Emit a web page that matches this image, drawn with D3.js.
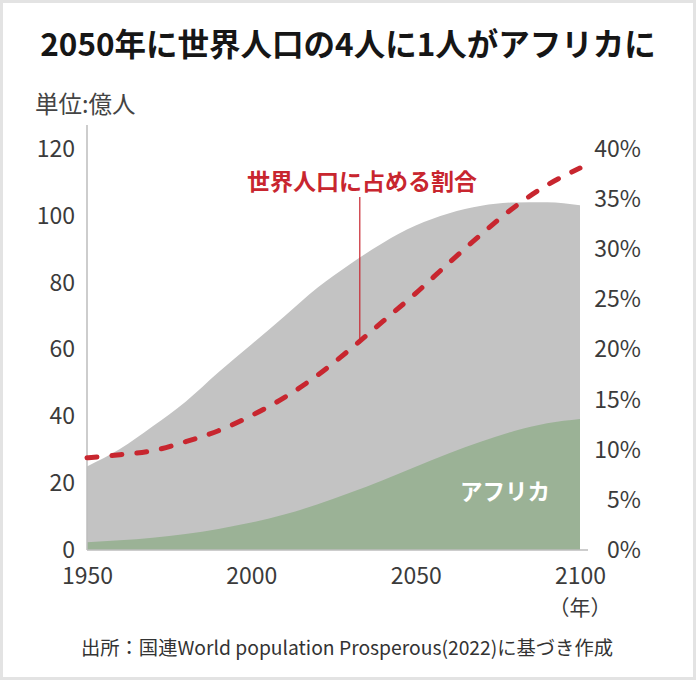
<!DOCTYPE html>
<html>
<head>
<meta charset="utf-8">
<script src="https://cdn.jsdelivr.net/npm/d3@7"></script>
<style>
  html, body { margin: 0; padding: 0; background: #fff; }
  svg text { font-family: "Noto Sans CJK JP", "Noto Sans", sans-serif; }
</style>
</head>
<body>
<div id="area"></div>
<script>
// values (億人 / %)
var years = [1950, 1960, 1970, 1980, 1990, 2000, 2010, 2020, 2030, 2040, 2050, 2060, 2070, 2080, 2090, 2100];
var world = [25.0, 30.2, 37.0, 44.4, 53.2, 61.5, 69.9, 78.4, 85.5, 91.9, 97.1, 100.7, 103.0, 104.0, 104.1, 103.2];
var africa = [2.3, 2.9, 3.7, 4.8, 6.3, 8.2, 10.6, 13.6, 17.1, 20.9, 24.9, 28.9, 32.5, 35.6, 37.9, 39.2];
var share = [9.2, 9.5, 9.9, 10.8, 11.9, 13.4, 15.2, 17.4, 20.0, 22.8, 25.6, 28.6, 31.5, 34.2, 36.4, 38.1];

var leftTicks = [0, 20, 40, 60, 80, 100, 120];
var rightTicks = [0, 5, 10, 15, 20, 25, 30, 35, 40];
var yearTicks = [1950, 2000, 2050, 2100];

var width = 696, height = 680;
var grey_fill = '#c3c3c3',
    green_fill = '#9bb296',
    red_line = '#c8262f',
    tick_color = '#3b3b3b';

var svg = d3.select('#area').append('svg')
    .attr('width', width)
    .attr('height', height);

// outer frame
svg.append('rect')
    .attr('x', 1.5).attr('y', 1.5)
    .attr('width', width - 3).attr('height', height - 3)
    .attr('fill', '#fff')
    .attr('stroke', '#e3e3e3')
    .attr('stroke-width', 3);

var x = d3.scaleLinear().domain([1950, 2100]).range([87, 580]);
var y = d3.scaleLinear().domain([0, 120]).range([550, 149]);
var yR = d3.scaleLinear().domain([0, 40]).range([550, 149]);

var rows = years.map(function(yr, i) {
  return {year: yr, world: world[i], africa: africa[i], share: share[i]};
});

// title
svg.append('text')
    .attr('x', 348).attr('y', 56)
    .attr('text-anchor', 'middle')
    .attr('font-size', 31.5)
    .attr('font-weight', 'bold')
    .attr('fill', '#161616')
    .text('2050年に世界人口の4人に1人がアフリカに');

svg.append('text')
    .attr('x', 35).attr('y', 113)
    .attr('font-size', 23.5)
    .attr('fill', '#444')
    .text('単位:億人');

// world area
var worldArea = d3.area()
    .x(function(d) { return x(d.year); })
    .y0(y(0))
    .y1(function(d) { return y(d.world); })
    .curve(d3.curveMonotoneX);

svg.append('path')
    .datum(rows)
    .attr('d', worldArea)
    .attr('fill', grey_fill);

// africa area
var africaArea = d3.area()
    .x(function(d) { return x(d.year); })
    .y0(y(0))
    .y1(function(d) { return y(d.africa); })
    .curve(d3.curveMonotoneX);

svg.append('path')
    .datum(rows)
    .attr('d', africaArea)
    .attr('fill', green_fill);

// left axis
var leftAxis = svg.append('g')
    .attr('transform', 'translate(' + x(1950) + ',0)')
    .call(d3.axisLeft(y).tickValues(leftTicks).tickSize(0).tickPadding(12));
leftAxis.select('.domain').remove();
leftAxis.selectAll('text')
    .attr('font-size', 23)
    .attr('fill', tick_color)
    .style('font-family', '"Noto Sans CJK JP", sans-serif');

svg.append('line')
    .attr('x1', x(1950)).attr('x2', x(1950))
    .attr('y1', 125).attr('y2', y(0))
    .attr('stroke', '#bdbdbd')
    .attr('stroke-width', 1.5);

// right axis (percent)
var rightAxis = svg.append('g')
    .attr('transform', 'translate(641,0)')
    .call(d3.axisLeft(yR).tickValues(rightTicks).tickSize(0).tickPadding(0)
      .tickFormat(function(d) { return d + '%'; }));
rightAxis.select('.domain').remove();
rightAxis.selectAll('text')
    .attr('font-size', 23)
    .attr('fill', tick_color)
    .style('font-family', '"Noto Sans CJK JP", sans-serif');

// baseline
svg.append('line')
    .attr('x1', x(1950)).attr('x2', 588)
    .attr('y1', y(0)).attr('y2', y(0))
    .attr('stroke', '#bdbdbd')
    .attr('stroke-width', 1.5);

// x axis
var xAxis = svg.append('g')
    .attr('transform', 'translate(0,' + y(0) + ')')
    .call(d3.axisBottom(x).tickValues(yearTicks).tickSize(0).tickPadding(18)
      .tickFormat(d3.format('d')));
xAxis.select('.domain').remove();
xAxis.selectAll('text')
    .attr('font-size', 23)
    .attr('fill', tick_color)
    .style('font-family', '"Noto Sans CJK JP", sans-serif');

svg.append('text')
    .attr('x', x(2100)).attr('y', 615)
    .attr('text-anchor', 'middle')
    .attr('font-size', 21)
    .attr('fill', tick_color)
    .text('（年）');

// share line
var shareLine = d3.line()
    .x(function(d) { return x(d.year); })
    .y(function(d) { return yR(d.share); })
    .curve(d3.curveMonotoneX);

svg.append('path')
    .datum(rows)
    .attr('d', shareLine)
    .attr('fill', 'none')
    .attr('stroke', red_line)
    .attr('stroke-width', 5)
    .attr('stroke-linecap', 'round')
    .attr('stroke-dasharray', '10,15');

// leader line + label
var leadYear = 2033;
svg.append('line')
    .attr('x1', x(leadYear)).attr('x2', x(leadYear))
    .attr('y1', 197).attr('y2', yR(20.8) + 2)
    .attr('stroke', red_line)
    .attr('stroke-width', 1.2);

svg.append('text')
    .attr('x', 362).attr('y', 190)
    .attr('text-anchor', 'middle')
    .attr('font-size', 23)
    .attr('font-weight', 'bold')
    .attr('fill', red_line)
    .text('世界人口に占める割合');

svg.append('text')
    .attr('x', 505).attr('y', 500)
    .attr('text-anchor', 'middle')
    .attr('font-size', 22.5)
    .attr('font-weight', 'bold')
    .attr('fill', '#fff')
    .text('アフリカ');

// source
svg.append('text')
    .attr('x', 347).attr('y', 655)
    .attr('text-anchor', 'middle')
    .attr('font-size', 19.3)
    .attr('fill', '#333')
    .text('出所：国連World population Prosperous(2022)に基づき作成');
</script>
</body>
</html>
